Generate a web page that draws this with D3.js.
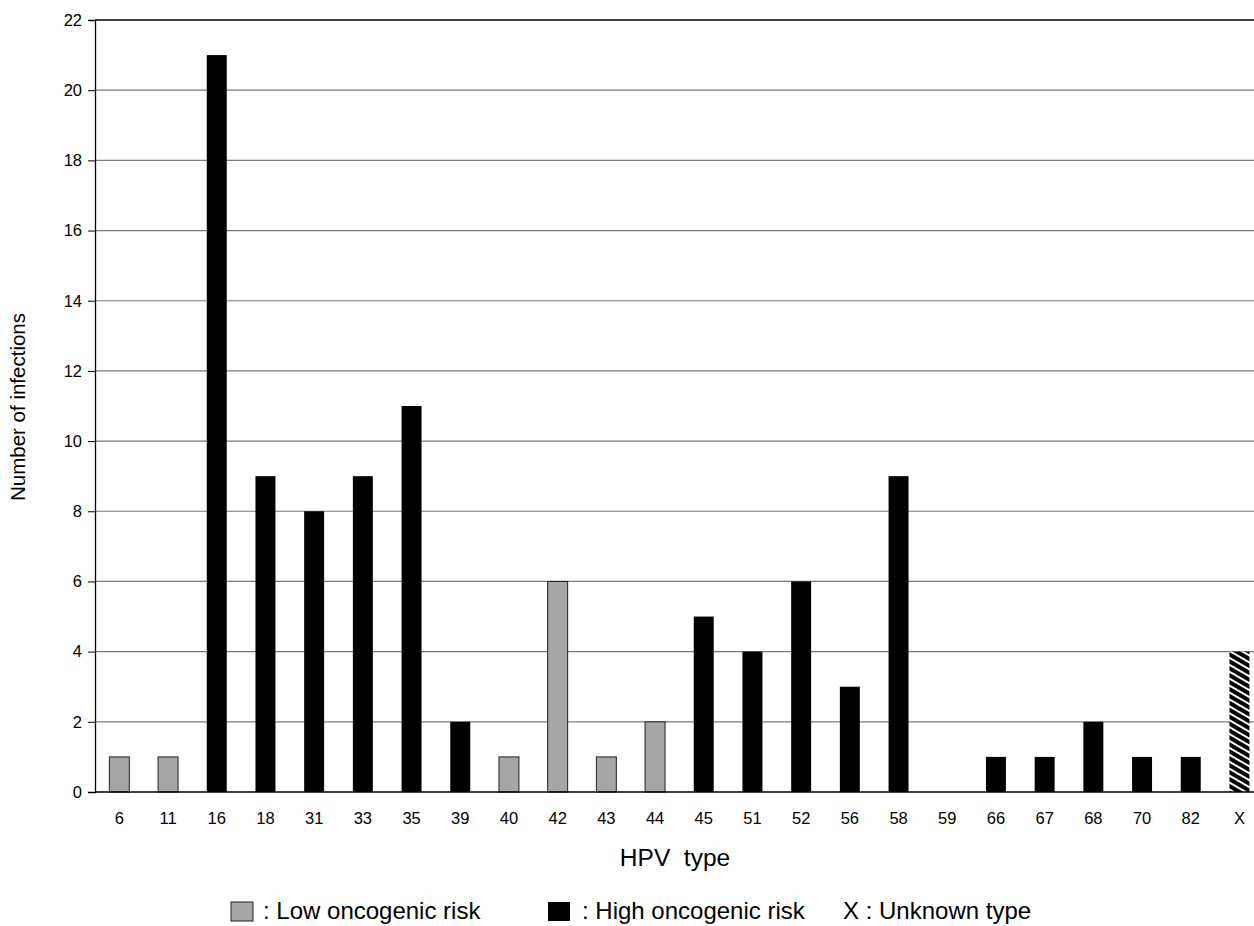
<!DOCTYPE html>
<html>
<head>
<meta charset="utf-8">
<script src="https://cdn.jsdelivr.net/npm/d3@7"></script>
<style>
  body { margin: 0; background: #fff; }
  svg { display: block; font-family: "Liberation Sans", Arial, Helvetica, sans-serif; }
</style>
</head>
<body>
<div id="chart"></div>
<script>
// HPV types and their counts
const types = ["6", "11", "16", "18", "31", "33", "35", "39", "40", "42", "43", "44",
               "45", "51", "52", "56", "58", "59", "66", "67", "68", "70", "82", "X"];
const counts = [1, 1, 21, 9, 8, 9, 11, 2, 1, 6, 1, 2,
                5, 4, 6, 3, 9, 0, 1, 1, 2, 1, 1, 4];
// low = low oncogenic risk, high = high oncogenic risk, unknown = X
const risk = ["low", "low", "high", "high", "high", "high", "high", "high", "low", "low", "low", "low",
              "high", "high", "high", "high", "high", "high", "high", "high", "high", "high", "high", "unknown"];
const yTicks = [0, 2, 4, 6, 8, 10, 12, 14, 16, 18, 20, 22];

const width = 1254;
const height = 926;
const margin = { top: 20, left: 95, bottom: 134 };
const plotRight = 95 + 24 * 48.7;   // plot runs a little past the right edge

const svg = d3.select("#chart")
    .append("svg")
    .attr("width", width)
    .attr("height", height);

// hatch pattern for the unknown type
const defs = svg.append("defs");
const hatch = defs.append("pattern")
    .attr("id", "hatch")
    .attr("patternUnits", "userSpaceOnUse")
    .attr("width", 6)
    .attr("height", 6)
    .attr("patternTransform", "rotate(30)");
hatch.append("rect")
    .attr("width", 6)
    .attr("height", 6)
    .attr("fill", "#000");
hatch.append("line")
    .attr("x1", -1).attr("x2", 7)
    .attr("y1", 3).attr("y2", 3)
    .attr("stroke", "#fff")
    .attr("stroke-width", 2);

const xScale = d3.scaleBand()
    .domain(types)
    .range([margin.left, plotRight])
    .paddingInner(0.59)
    .paddingOuter(0.295);

const yScale = d3.scaleLinear()
    .domain([0, 22])
    .range([height - margin.bottom, margin.top]);

// horizontal gridlines
svg.append("g")
    .attr("class", "grid")
    .selectAll("line")
    .data(yTicks.filter(d => d > 0 && d < 22))
    .join("line")
    .attr("x1", margin.left)
    .attr("x2", width)
    .attr("y1", d => yScale(d))
    .attr("y2", d => yScale(d))
    .attr("stroke", "#7a7a7a")
    .attr("stroke-width", 1.2);

// top border
svg.append("line")
    .attr("x1", margin.left)
    .attr("x2", width)
    .attr("y1", yScale(22))
    .attr("y2", yScale(22))
    .attr("stroke", "#000")
    .attr("stroke-width", 1.3);

const fills = { low: "#a6a6a6", high: "#000", unknown: "url(#hatch)" };

svg.append("g")
    .selectAll("rect")
    .data(types)
    .join("rect")
    .attr("x", d => xScale(d))
    .attr("width", xScale.bandwidth())
    .attr("y", (d, i) => yScale(counts[i]))
    .attr("height", (d, i) => yScale(0) - yScale(counts[i]))
    .attr("fill", (d, i) => fills[risk[i]])
    .attr("stroke", (d, i) => risk[i] === "low" ? "#222" : "none")
    .attr("stroke-width", 1);

// y axis
const yAxis = d3.axisLeft(yScale)
    .tickValues(yTicks)
    .tickSize(7)
    .tickPadding(6);

const gy = svg.append("g")
    .attr("transform", `translate(${margin.left},0)`)
    .call(yAxis);
gy.select(".domain").attr("stroke", "#000").attr("stroke-width", 1.3);
gy.selectAll(".tick line").attr("stroke", "#000");
gy.selectAll(".tick text")
    .attr("font-size", 16.5)
    .attr("font-family", "Liberation Sans, Arial, sans-serif")
    .attr("fill", "#000");

// x axis
const xAxis = d3.axisBottom(xScale)
    .tickSize(0)
    .tickPadding(20);

const gx = svg.append("g")
    .attr("transform", `translate(0,${yScale(0)})`)
    .call(xAxis);
gx.select(".domain")
    .attr("d", `M${margin.left},0H${width}`)
    .attr("stroke", "#000")
    .attr("stroke-width", 1.5);
gx.selectAll(".tick text")
    .attr("font-size", 16.5)
    .attr("font-family", "Liberation Sans, Arial, sans-serif")
    .attr("fill", "#000");

// axis titles
svg.append("text")
    .attr("x", 675)
    .attr("y", 866)
    .attr("text-anchor", "middle")
    .attr("font-size", 24.5)
    .attr("xml:space", "preserve")
    .text("HPV  type");

svg.append("text")
    .attr("transform", "translate(25,407) rotate(-90)")
    .attr("text-anchor", "middle")
    .attr("font-size", 20.5)
    .text("Number of infections");

// legend
const legend = svg.append("g").attr("font-size", 24);
legend.append("rect")
    .attr("x", 231).attr("y", 902)
    .attr("width", 22).attr("height", 19)
    .attr("fill", fills.low)
    .attr("stroke", "#222");
legend.append("text")
    .attr("x", 263).attr("y", 919)
    .text(": Low oncogenic risk");
legend.append("rect")
    .attr("x", 548).attr("y", 902)
    .attr("width", 22).attr("height", 19)
    .attr("fill", fills.high);
legend.append("text")
    .attr("x", 582).attr("y", 919)
    .text(": High oncogenic risk");
legend.append("text")
    .attr("x", 843).attr("y", 919)
    .text("X : Unknown type");
</script>
</body>
</html>
